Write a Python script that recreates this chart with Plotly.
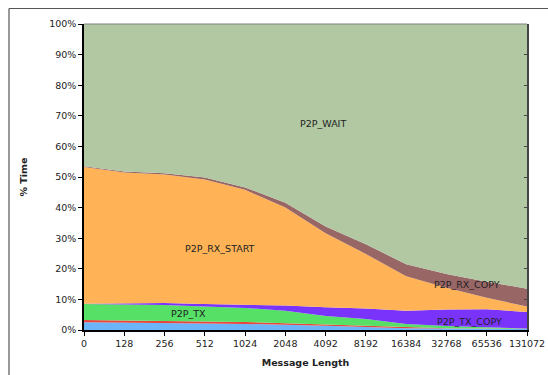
import plotly.graph_objects as go

msg_len = ["0", "128", "256", "512", "1024", "2048", "4092", "8192", "16384", "32768", "65536", "131072"]

# per-layer percentages (bottom to top)
blue = [2.5, 2.3, 2.2, 2.1, 2.0, 1.8, 1.4, 1.0, 0.6, 0.5, 0.4, 0.3]
red = [0.8, 0.9, 0.8, 0.7, 0.6, 0.4, 0.3, 0.2, 0.2, 0.1, 0.1, 0.1]
p2p_tx = [5.2, 5.2, 5.2, 4.9, 4.6, 4.1, 2.9, 2.4, 1.2, 0.7, 0.3, 0.1]
p2p_tx_copy = [0.1, 0.4, 0.6, 0.8, 1.1, 1.7, 2.8, 3.4, 4.3, 5.4, 6.0, 5.4]
p2p_rx_start = [44.7, 42.7, 42.0, 40.7, 37.5, 32.0, 24.2, 17.8, 11.3, 7.1, 3.7, 1.8]
p2p_rx_copy = [0.2, 0.3, 0.4, 0.6, 0.8, 1.6, 2.2, 3.2, 3.9, 4.5, 5.3, 5.8]
p2p_wait = [46.5, 48.2, 48.8, 50.2, 53.4, 58.4, 66.2, 72.0, 78.5, 81.7, 84.2, 86.5]

series = [
    ("blue", blue, "#6bb4fa"),
    ("red", red, "#e8463c"),
    ("P2P_TX", p2p_tx, "#56e066"),
    ("P2P_TX_COPY", p2p_tx_copy, "#7a33fb"),
    ("P2P_RX_START", p2p_rx_start, "#ffb356"),
    ("P2P_RX_COPY", p2p_rx_copy, "#996666"),
    ("P2P_WAIT", p2p_wait, "#b1c8a3"),
]

fig = go.Figure()
for name, vals, col in series:
    fig.add_trace(go.Scatter(
        x=msg_len, y=vals, name=name, stackgroup="one", mode="lines",
        line=dict(width=0, color=col), fillcolor=col, hoverinfo="x+y+name",
    ))

# invisible trace for right axis
fig.add_trace(go.Scatter(x=msg_len, y=[None]*len(msg_len), yaxis="y2", showlegend=False, hoverinfo="skip"))

font = dict(family="DejaVu Sans, Verdana, sans-serif", size=9.5, color="#222222")

labels = [
    ("P2P_WAIT", 5.94, 67.6),
    ("P2P_RX_START", 3.37, 26.5),
    ("P2P_TX", 2.59, 5.5),
    ("P2P_RX_COPY", 9.5, 15.0),
    ("P2P_TX_COPY", 9.57, 2.7),
]
for text, xv, yv in labels:
    fig.add_annotation(x=xv, y=yv, xref="x", yref="y", text=text, showarrow=False,
                       font=font)

L, R, T, B = 84, 21, 24, 45
PW, PH = 548 - L - R, 375 - T - B
fx = (9 - L) / PW
fy = 1 + (T - 8.5) / PH

fig.update_layout(
    width=548, height=375,
    margin=dict(l=L, r=R, t=T, b=B, autoexpand=False),
    paper_bgcolor="white", plot_bgcolor="white",
    showlegend=False,
    font=font,
    xaxis=dict(type="category", range=[0, 11], showgrid=False, zeroline=False,
               showline=True, linecolor="#000000", linewidth=1.5,
               ticks="outside", ticklen=4, tickcolor="#000000",
               tickfont=font, automargin=False,
               title=dict(text="<b>Message Length</b>", font=dict(family=font["family"], size=9.5, color="#222222"), standoff=11)),
    yaxis=dict(range=[0, 100], dtick=10, ticksuffix="%", showgrid=False, zeroline=False,
               showline=True, linecolor="#000000", linewidth=1.5,
               ticks="outside", ticklen=4, tickcolor="#000000",
               tickfont=font, automargin=False,
               title=dict(text="<b>% Time</b>", font=dict(family=font["family"], size=9.5, color="#222222"), standoff=20)),
    yaxis2=dict(range=[0, 100], dtick=10, overlaying="y", side="right", showgrid=False,
                zeroline=False, showticklabels=False, showline=True, linecolor="#444444",
                linewidth=1.5, ticks="inside", ticklen=3, tickcolor="#444444"),
    shapes=[
        dict(type="line", xref="paper", yref="paper", x0=0, x1=1, y0=1, y1=1,
             line=dict(color="#808080", width=1)),
        dict(type="line", xref="paper", yref="paper", x0=fx, x1=1.2, y0=fy, y1=fy,
             line=dict(color="#555555", width=1.2)),
        dict(type="line", xref="paper", yref="paper", x0=fx, x1=fx, y0=fy, y1=-0.3,
             line=dict(color="#555555", width=1.2)),
    ],
)

fig.write_html("out.html", config={"displayModeBar": False},
               post_script="document.body.style.margin='0';document.body.style.overflow='hidden';")
